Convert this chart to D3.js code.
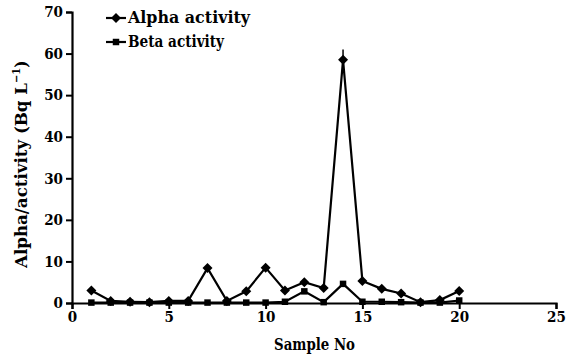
<!DOCTYPE html>
<html><head><meta charset="utf-8">
<script src="https://cdn.jsdelivr.net/npm/d3@7"></script>
<style>body{margin:0;background:#fff}svg{display:block}text{font-family:'DejaVu Serif';font-stretch:condensed;font-weight:bold;fill:#000}</style>
</head><body>
<svg id="c" width="572" height="356"></svg>
<script>
const samples = [1,2,3,4,5,6,7,8,9,10,11,12,13,14,15,16,17,18,19,20];
const alpha = [3.0,0.5,0.3,0.2,0.5,0.5,8.4,0.5,2.8,8.5,3.0,5.0,3.6,58.5,5.3,3.4,2.3,0.2,0.7,2.9];
const beta  = [0.1,0.1,0.1,0.1,0.1,0.1,0.1,0.1,0.1,0.1,0.3,2.8,0.2,4.6,0.3,0.3,0.2,0.1,0.1,0.6];
const alphaErr = [0,0,0,0,0,0,0,0,0,0,0,0,0,2.5,0,0,0,0,0,0];
const xTicks = [0,5,10,15,20,25];
const yTicks = [0,10,20,30,40,50,60,70];
const seriesNames = ["Alpha activity","Beta activity"];

const FONT = "DejaVu Serif";
const svg = d3.select("#c");
const x = d3.scaleLinear().domain([0,25]).range([72,556]);
const y = d3.scaleLinear().domain([0,70]).range([303,12]);

const xAxis = svg.append("g").attr("transform","translate(0,303)")
  .call(d3.axisBottom(x).tickValues(xTicks).tickSize(6).tickPadding(2));
const yAxis = svg.append("g").attr("transform","translate(72,0)")
  .call(d3.axisLeft(y).tickValues(yTicks).tickSize(6).tickPadding(3));
[xAxis,yAxis].forEach(g=>{
  g.attr("font-family",FONT).attr("font-size",15);
  g.selectAll("path").attr("stroke","#000").attr("stroke-width",2.2);
  g.selectAll("line").attr("stroke","#000").attr("stroke-width",2);
});

const diamondPath = d3.symbol().type(d3.symbolSquare).size(50)();
const squarePath = d3.symbol().type(d3.symbolSquare).size(42)();

const line = d3.line().x((d,i)=>x(samples[i])).y(d=>y(d));
svg.append("path").datum(beta).attr("d",line).attr("fill","none").attr("stroke","#000").attr("stroke-width",2.2);
svg.append("path").datum(alpha).attr("d",line).attr("fill","none").attr("stroke","#000").attr("stroke-width",2.2);

svg.selectAll(".err").data(alpha.map((v,i)=>({v,e:alphaErr[i],s:samples[i]})).filter(d=>d.e>0))
  .enter().append("line").attr("x1",d=>x(d.s)).attr("x2",d=>x(d.s))
  .attr("y1",d=>y(d.v-d.e)).attr("y2",d=>y(d.v+d.e)).attr("stroke","#000").attr("stroke-width",1.5);

svg.selectAll(".b").data(beta).enter().append("path")
  .attr("transform",(d,i)=>`translate(${x(samples[i])},${y(d)})`).attr("d",squarePath).attr("fill","#000");
svg.selectAll(".a").data(alpha).enter().append("path")
  .attr("transform",(d,i)=>`translate(${x(samples[i])},${y(d)}) rotate(45)`)
  .attr("d",diamondPath).attr("fill","#000");

const lg = svg.append("g");
const legW = [122,96];
[0,1].forEach(k=>{
  const ly = 18 + k*24;
  lg.append("line").attr("x1",106).attr("x2",126).attr("y1",ly).attr("y2",ly).attr("stroke","#000").attr("stroke-width",2.2);
  lg.append("path").attr("transform",`translate(116,${ly})` + (k===0?" rotate(45)":""))
    .attr("d",k===0?diamondPath:squarePath).attr("fill","#000");
  lg.append("text").attr("x",128).attr("y",ly+5).attr("font-size",16)
    .attr("textLength",legW[k]).attr("lengthAdjust","spacingAndGlyphs").text(seriesNames[k]);
});

svg.append("text").attr("x",274).attr("y",350).attr("font-size",17)
  .attr("textLength",81).attr("lengthAdjust","spacingAndGlyphs").text("Sample No");
svg.append("text").attr("transform","translate(27,268) rotate(-90)").attr("font-size",17)
  .html('<tspan textLength="185" lengthAdjust="spacingAndGlyphs">Alpha/activity (Bq L</tspan><tspan dy="-7" font-size="11px">−1</tspan><tspan dy="7">)</tspan>');
</script>
</body></html>
